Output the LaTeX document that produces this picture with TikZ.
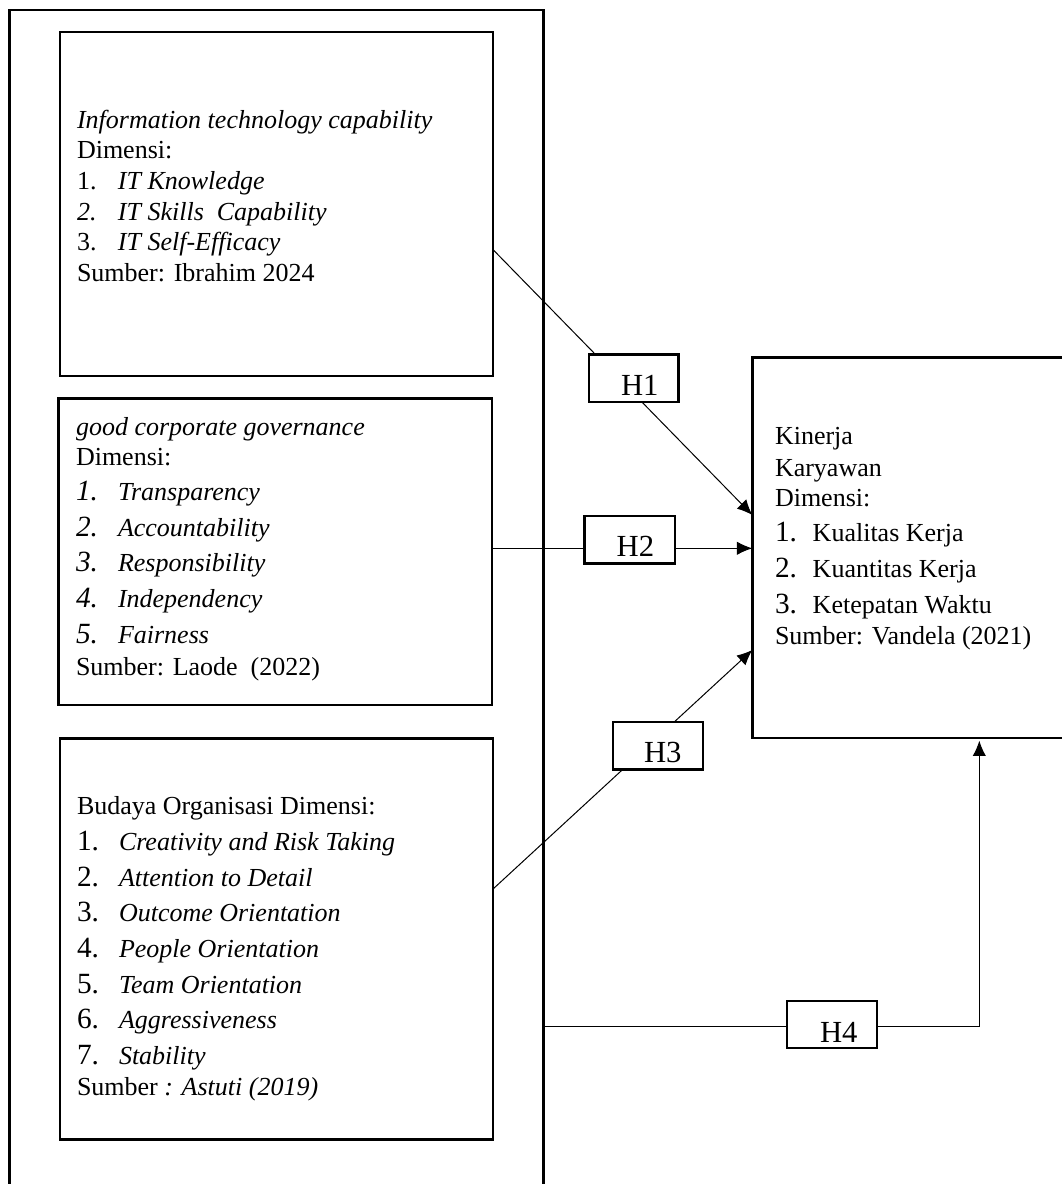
\documentclass[tikz,border=0pt]{standalone}
\usepackage{fontspec}
\setmainfont{Liberation Serif}
\usetikzlibrary{fit,arrows.meta}
\newcommand\bignum[1]{{\fontsize{22}{26}\selectfont #1}}
\newcommand\itemrow[3]{\makebox[#1][l]{#2}#3}
\begin{document}
\begin{tikzpicture}[x=0.75pt,y=-0.75pt,
  frame/.style={draw, line width=1.8pt, inner sep=0pt, outer sep=0pt},
  hbox/.style={draw, fill=white, line width=1.8pt, inner sep=0pt, outer sep=0pt},
  txt/.style={anchor=base west, inner sep=0pt, outer sep=0pt, font=\fontsize{19.5}{23}\selectfont},
  htxt/.style={anchor=base west, inner sep=0pt, outer sep=0pt, font=\fontsize{23}{26}\selectfont},
  conn/.style={line width=0.75pt},
  arr/.style={conn, -{Latex[length=11.5pt,width=10pt]}}]
\useasboundingbox (0,0) rectangle (1061,1184);

% corner coordinates
\coordinate (onw) at (9.3,10);     \coordinate (ose) at (543.3,1200);
\coordinate (b1nw) at (60,32);     \coordinate (b1se) at (492.7,375.7);
\coordinate (b2nw) at (58.5,398.3); \coordinate (b2se) at (491.7,704.7);
\coordinate (b3nw) at (60,738.3);  \coordinate (b3se) at (492.7,1139.3);
\coordinate (knw) at (752.3,357.3); \coordinate (kse) at (1070,737.7);

% big frames
\node[frame, fit=(onw)(ose)] (outer) {};
\node[frame, fit=(b1nw)(b1se)] (b1) {};
\node[frame, fit=(b2nw)(b2se)] (b2) {};
\node[frame, fit=(b3nw)(b3se)] (b3) {};
\node[frame, fit=(knw)(kse)] (kin) {};

% box 1 text
\node[txt] (b1l1) at (77,128.3) {\textit{Information technology capability}};
\node[txt] (b1l2) at (77,159) {Dimensi:};
\node[txt] (b1l3) at (77,189.3) {\itemrow{30.7pt}{1.}{\textit{IT Knowledge}}};
\node[txt] (b1l4) at (77,220) {\itemrow{30.7pt}{\textit{2.}}{\textit{IT Skills\ \ Capability}}};
\node[txt] (b1l5) at (77,250) {\itemrow{30.7pt}{3.}{\textit{IT Self-Efficacy}}};
\node[txt] (b1l6) at (77,281.7) {Sumber: Ibrahim 2024};

% box 2 text
\node[txt] (b2l1) at (76,435) {\textit{good corporate governance}};
\node[txt] (b2l2) at (76,465) {Dimensi:};
\node[txt] (b2l3) at (76,500) {\itemrow{31.5pt}{\bignum{\textit{1.}}}{\textit{Transparency}}};
\node[txt] (b2l4) at (76,536) {\itemrow{31.5pt}{\bignum{\textit{2.}}}{\textit{Accountability}}};
\node[txt] (b2l5) at (76,571.7) {\itemrow{31.5pt}{\bignum{\textit{3.}}}{\textit{Responsibility}}};
\node[txt] (b2l6) at (76,607.3) {\itemrow{31.5pt}{\bignum{\textit{4.}}}{\textit{Independency}}};
\node[txt] (b2l7) at (76,643.3) {\itemrow{31.5pt}{\bignum{\textit{5.}}}{\textit{Fairness}}};
\node[txt] (b2l8) at (76,675) {Sumber: Laode\ \ (2022)};

% box 3 text
\node[txt] (b3l1) at (77,814) {Budaya Organisasi Dimensi:};
\node[txt] (b3l2) at (77,850) {\itemrow{31.5pt}{\bignum{1.}}{\textit{Creativity and Risk Taking}}};
\node[txt] (b3l3) at (77,886) {\itemrow{31.5pt}{\bignum{2.}}{\textit{Attention to Detail}}};
\node[txt] (b3l4) at (77,921.7) {\itemrow{31.5pt}{\bignum{3.}}{\textit{Outcome Orientation}}};
\node[txt] (b3l5) at (77,957.3) {\itemrow{31.5pt}{\bignum{4.}}{\textit{People Orientation}}};
\node[txt] (b3l6) at (77,993.3) {\itemrow{31.5pt}{\bignum{5.}}{\textit{Team Orientation}}};
\node[txt] (b3l7) at (77,1028.3) {\itemrow{31.5pt}{\bignum{6.}}{\textit{Aggressiveness}}};
\node[txt] (b3l8) at (77,1064.3) {\itemrow{31.5pt}{\bignum{7.}}{\textit{Stability}}};
\node[txt] (b3l9) at (77,1095) {Sumber \textit{: Astuti (2019)}};

% kinerja text
\node[txt] (kl1) at (775,444.3) {Kinerja};
\node[txt] (kl2) at (775,476) {Karyawan};
\node[txt] (kl3) at (775,506.7) {Dimensi:};
\node[txt] (kl4) at (775,541.7) {\itemrow{28.3pt}{\bignum{1.}}{Kualitas Kerja}};
\node[txt] (kl5) at (775,577.5) {\itemrow{28.3pt}{\bignum{2.}}{Kuantitas Kerja}};
\node[txt] (kl6) at (775,613.3) {\itemrow{28.3pt}{\bignum{3.}}{Ketepatan Waktu}};
\node[txt] (kl7) at (775,644.3) {Sumber: Vandela (2021)};

% connector levels
\coordinate (y1) at (0,249.3);  \coordinate (k1) at (0,515);
\coordinate (y2) at (0,548.3);
\coordinate (y3) at (0,889.3);  \coordinate (k3) at (0,650);
\coordinate (y4) at (0,1026.3); \coordinate (x4) at (979.3,0);

\draw[arr] (b1.east |- y1) -- (kin.west |- k1);
\draw[arr] (b2.east |- y2) -- (kin.west |- y2);
\draw[arr] (b3.east |- y3) -- (kin.west |- k3);
\draw[arr, shorten >=2.2pt] (outer.east |- y4) -| (x4 |- kin.south);

% hypothesis boxes
\coordinate (h1nw) at (589,354.3);   \coordinate (h1se) at (678.3,401.7);
\coordinate (h2nw) at (584.3,515.7); \coordinate (h2se) at (675,563.3);
\coordinate (h3nw) at (612.7,722);   \coordinate (h3se) at (702.7,769.3);
\coordinate (h4nw) at (786.7,1000.7); \coordinate (h4se) at (876.7,1047.7);
\node[hbox, fit=(h1nw)(h1se)] (h1) {};
\node[hbox, fit=(h2nw)(h2se)] (h2) {};
\node[hbox, fit=(h3nw)(h3se)] (h3) {};
\node[hbox, fit=(h4nw)(h4se)] (h4) {};
\node[htxt] (h1t) at (621,395) {H1};
\node[htxt] (h2t) at (616.7,556.7) {H2};
\node[htxt] (h3t) at (644,762.7) {H3};
\node[htxt] (h4t) at (820,1042) {H4};
\end{tikzpicture}
\end{document}
